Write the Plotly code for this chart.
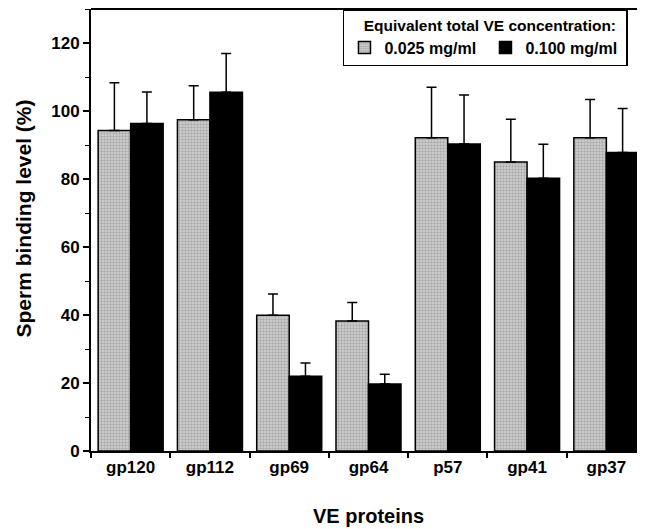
import plotly.graph_objects as go

categories = ["gp120", "gp112", "gp69", "gp64", "p57", "gp41", "gp37"]
low_vals = [94.3, 97.4, 39.9, 38.2, 92.1, 85.0, 92.1]
low_err = [14.0, 10.0, 6.3, 5.5, 14.9, 12.6, 11.3]
high_vals = [96.3, 105.5, 22.0, 19.7, 90.3, 80.2, 87.8]
high_err = [9.3, 11.4, 3.9, 2.9, 14.4, 10.0, 12.9]
series_names = ["0.025 mg/ml", "0.100 mg/ml"]

FONT = "Liberation Sans, Arial, Helvetica, sans-serif"

fig = go.Figure()
fig.add_trace(go.Bar(
    x=categories, y=low_vals, name=series_names[0],
    marker=dict(color="#b0b0b0", line=dict(color="black", width=1.5),
                pattern=dict(shape=".", size=3, solidity=0.5, fgcolor="#808080", bgcolor="#d4d4d4")),
    error_y=dict(type="data", array=low_err, symmetric=False, arrayminus=[0]*7,
                 color="black", thickness=1.5, width=5),
))
fig.add_trace(go.Bar(
    x=categories, y=high_vals, name=series_names[1],
    marker=dict(color="black", line=dict(color="black", width=1.5)),
    error_y=dict(type="data", array=high_err, symmetric=False, arrayminus=[0]*7,
                 color="black", thickness=1.5, width=5),
))

fig.update_layout(
    width=645, height=529,
    margin=dict(l=83, r=7, t=1, b=86, autoexpand=False),
    paper_bgcolor="white", plot_bgcolor="white",
    barmode="group", bargap=0.18, bargroupgap=0,
    font=dict(family=FONT, color="black", size=17, weight="bold"),
    showlegend=True,
    legend=dict(
        x=0.454, y=1.0, xanchor="left", yanchor="top",
        orientation="h",
        title=dict(text="\u00a0\u00a0\u00a0\u00a0Equivalent total VE concentration:",
                   side="top",
                   font=dict(family=FONT, size=15.5, weight="bold")),
        font=dict(family=FONT, size=16, weight="bold"),
        bgcolor="white", bordercolor="black", borderwidth=1.5,
        itemwidth=30, traceorder="normal", entrywidth=96,
    ),
    xaxis=dict(
        range=[-0.5, 6.5],
        showline=True, linecolor="black", linewidth=2,
        mirror=False,
        ticks="outside", tickson="boundaries", ticklen=5, tickwidth=1.5, tickcolor="black",
        tickfont=dict(family=FONT, size=17, weight="bold"),
        title=dict(text="VE proteins", standoff=33,
                   font=dict(family=FONT, size=20, weight="bold")),
    ),
    yaxis=dict(
        range=[0, 130],
        tickvals=[0, 20, 40, 60, 80, 100, 120],
        showline=True, linecolor="black", linewidth=2,
        showgrid=False, zeroline=False,
        ticks="outside", ticklen=6, tickwidth=1.5, tickcolor="black",
        minor=dict(tickvals=[10, 30, 50, 70, 90, 110, 130], ticks="outside",
                   ticklen=4, tickwidth=1, tickcolor="black"),
        tickfont=dict(family=FONT, size=17, weight="bold"),
    ),
    annotations=[dict(
        text="Sperm binding level (%)", textangle=-90,
        xref="paper", yref="paper", x=-0.1225, y=0.526,
        xanchor="center", yanchor="middle", showarrow=False,
        font=dict(family=FONT, size=21, weight="bold"),
    )],
)

# top frame line
fig.add_shape(type="line", xref="paper", yref="paper", x0=0, x1=1, y0=1, y1=1,
              line=dict(color="black", width=2))

fig.write_html("out.html")
